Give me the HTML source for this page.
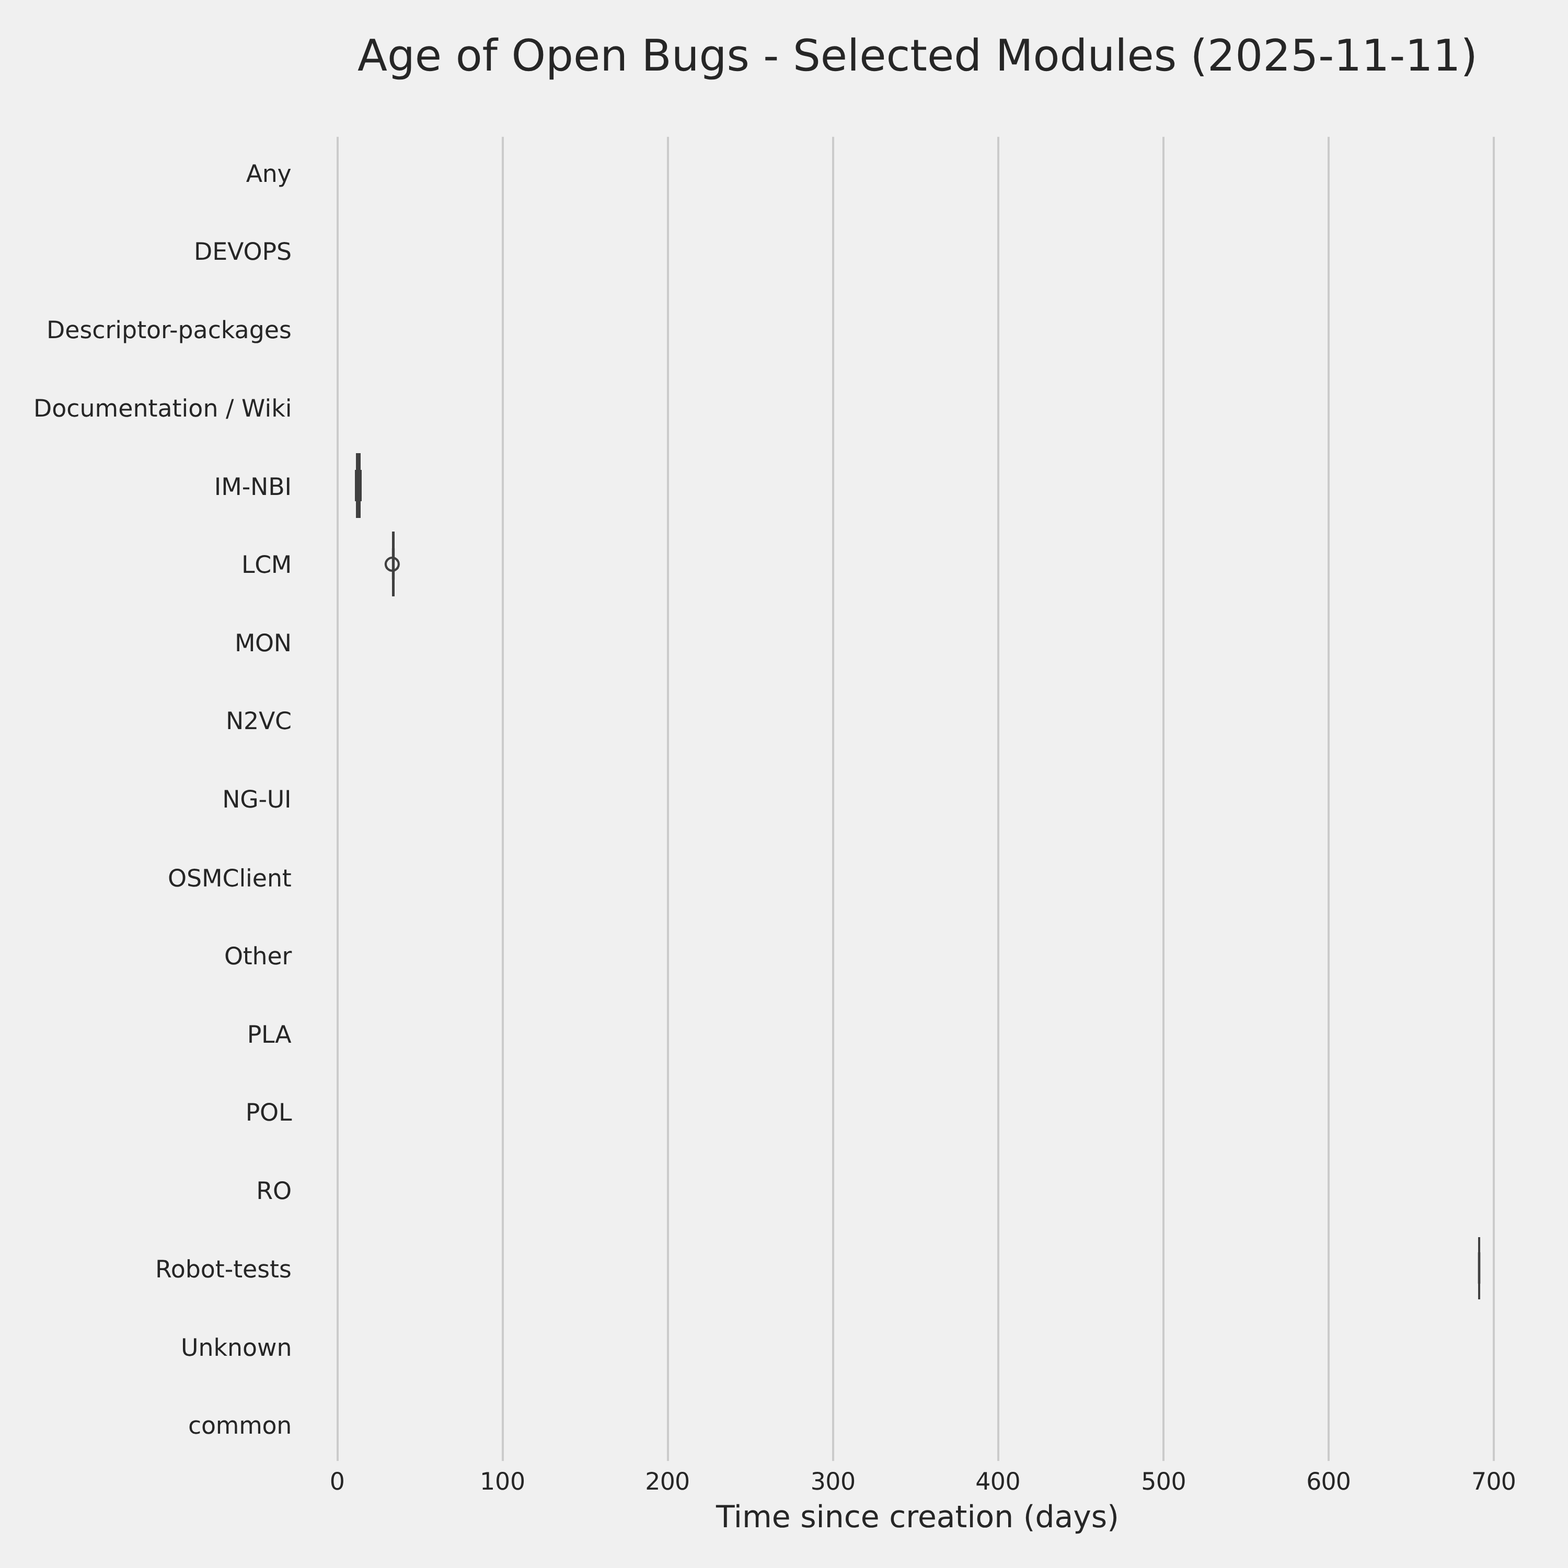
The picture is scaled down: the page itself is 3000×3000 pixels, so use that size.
<!DOCTYPE html>
<html lang="en">
<head>
<meta charset="utf-8">
<title>Age of Open Bugs - Selected Modules (2025-11-11)</title>
<style>
  html, body { margin: 0; padding: 0; width: 3000px; height: 3000px; background: #f0f0f0; }
  svg { display: block; }
  text { font-family: "DejaVu Sans", "Liberation Sans", sans-serif; fill: #262626; font-kerning: normal; text-rendering: geometricPrecision; }
  .title { font-size: 83.333px; text-anchor: middle; }
  .xlabel { font-size: 58.333px; text-anchor: middle; }
  .ytick { font-size: 45.833px; text-anchor: end; }
  .xtick { font-size: 45.833px; text-anchor: middle; }
  .grid rect { fill: #cbcbcb; }
  .box { fill: #404040; }
  .flier { fill: none; stroke: #404040; stroke-width: 4.17; }
</style>
</head>
<body>
<svg width="3000" height="3000" viewBox="0 0 3000 3000" role="img" aria-label="Age of Open Bugs - Selected Modules (2025-11-11)">
<rect x="0" y="0" width="3000" height="3000" fill="#f0f0f0"/>
<g class="grid">
  <rect x="644" y="261.78" width="4" height="2533.42"/>
  <rect x="960" y="261.78" width="4" height="2533.42"/>
  <rect x="1276" y="261.78" width="4" height="2533.42"/>
  <rect x="1592" y="261.78" width="4" height="2533.42"/>
  <rect x="1908" y="261.78" width="4" height="2533.42"/>
  <rect x="2224" y="261.78" width="4" height="2533.42"/>
  <rect x="2540" y="261.78" width="4" height="2533.42"/>
  <rect x="2856" y="261.78" width="4" height="2533.42"/>
</g>
<g class="title-group">
  <text class="title" x="1755.47" y="135" textLength="2143.05" lengthAdjust="spacing">Age of Open Bugs - Selected Modules (2025-11-11)</text>
</g>
<g class="yaxis">
  <text class="ytick" x="557.6" y="348" textLength="86.77" lengthAdjust="spacing">Any</text>
  <text class="ytick" x="558" y="497" textLength="186.89" lengthAdjust="spacing">DEVOPS</text>
  <text class="ytick" x="557.78" y="647" textLength="468.75" lengthAdjust="spacing">Descriptor-packages</text>
  <text class="ytick" x="558.46" y="797" textLength="494.56" lengthAdjust="spacing">Documentation / Wiki</text>
  <text class="ytick" x="558.05" y="947" textLength="148.2" lengthAdjust="spacing">IM-NBI</text>
  <text class="ytick" x="558.22" y="1096" textLength="96.12" lengthAdjust="spacing">LCM</text>
  <text class="ytick" x="558" y="1246" textLength="109.01" lengthAdjust="spacing">MON</text>
  <text class="ytick" x="558" y="1395" textLength="125.99" lengthAdjust="spacing">N2VC</text>
  <text class="ytick" x="557.57" y="1545" textLength="132.42" lengthAdjust="spacing">NG-UI</text>
  <text class="ytick" x="557.84" y="1696" textLength="236.8" lengthAdjust="spacing">OSMClient</text>
  <text class="ytick" x="558.23" y="1845" textLength="129.29" lengthAdjust="spacing">Other</text>
  <text class="ytick" x="557.57" y="1995" textLength="84.83" lengthAdjust="spacing">PLA</text>
  <text class="ytick" x="558.48" y="2144" textLength="88.74" lengthAdjust="spacing">POL</text>
  <text class="ytick" x="558.09" y="2294" textLength="67.93" lengthAdjust="spacing">RO</text>
  <text class="ytick" x="557.78" y="2444" textLength="260.75" lengthAdjust="spacing">Robot-tests</text>
  <text class="ytick" x="558.64" y="2594" textLength="212.73" lengthAdjust="spacing">Unknown</text>
  <text class="ytick" x="558.42" y="2743" textLength="198.41" lengthAdjust="spacing">common</text>
</g>
<g class="xaxis">
  <text class="xtick" x="645.4" y="2850">0</text>
  <text class="xtick" x="961.65" y="2850" textLength="87.08" lengthAdjust="spacing">100</text>
  <text class="xtick" x="1277.26" y="2850" textLength="85.98" lengthAdjust="spacing">200</text>
  <text class="xtick" x="1593.87" y="2850" textLength="86.39" lengthAdjust="spacing">300</text>
  <text class="xtick" x="1909.38" y="2850" textLength="86.42" lengthAdjust="spacing">400</text>
  <text class="xtick" x="2226.38" y="2850" textLength="86.36" lengthAdjust="spacing">500</text>
  <text class="xtick" x="2542.09" y="2850" textLength="85.59" lengthAdjust="spacing">600</text>
  <text class="xtick" x="2858.01" y="2850" textLength="85.81" lengthAdjust="spacing">700</text>
  <text class="xlabel" x="1755.41" y="2922" textLength="771.03" lengthAdjust="spacing">Time since creation (days)</text>
</g>
<g class="boxes">
  <!-- IM-NBI -->
  <rect class="box" x="681" y="867" width="9" height="124"/>
  <rect class="box" x="679" y="899" width="13" height="60"/>
  <!-- LCM -->
  <rect class="box" x="750" y="1017" width="5" height="124"/>
  <rect class="box" x="749.85" y="1049" width="5.3" height="60"/>
  <circle class="flier" cx="750.4" cy="1079.5" r="12.5"/>
  <!-- Robot-tests -->
  <rect class="box" x="2828" y="2367" width="4" height="119"/>
  <rect class="box" x="2827.7" y="2396" width="4.6" height="60"/>
</g>
</svg>
</body>
</html>
